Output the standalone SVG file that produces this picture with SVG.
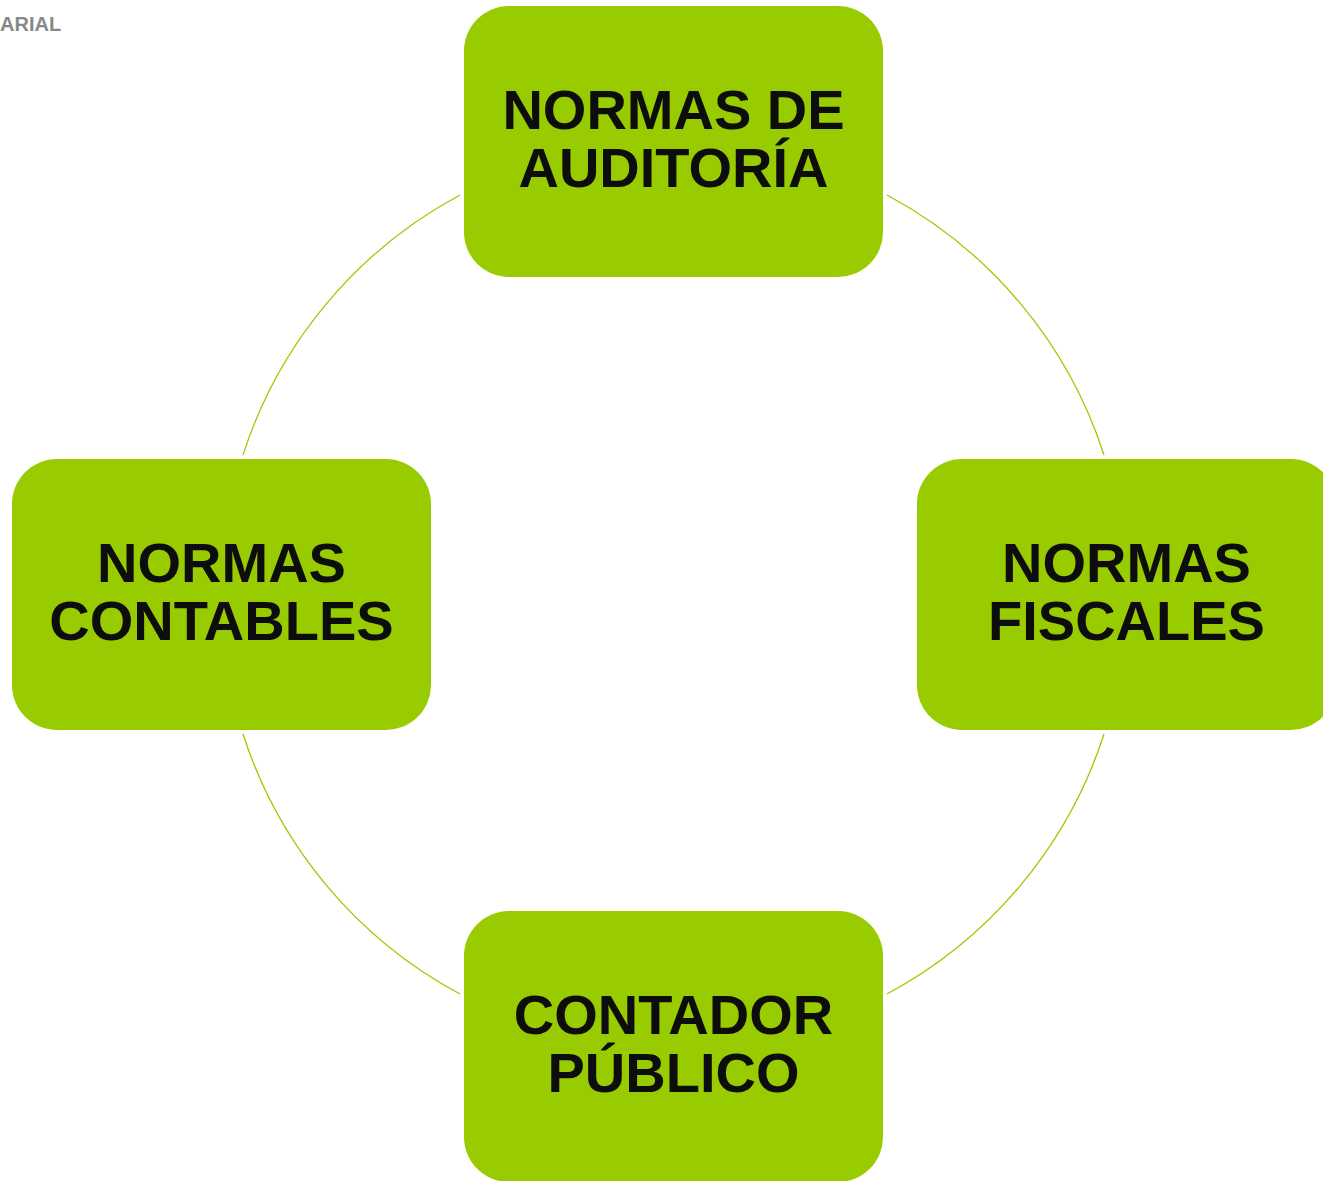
<svg xmlns="http://www.w3.org/2000/svg" width="1323" height="1181" viewBox="0 0 1323 1181">
<style>
.box{fill:#99cc00;}
.lbl{font-family:"Liberation Sans",Arial,sans-serif;font-weight:bold;font-size:56px;fill:#0d0d0d;text-anchor:middle;}
.arc{fill:none;stroke:#99cc00;stroke-width:1.3;}
</style>
<rect width="1323" height="1181" fill="#ffffff"/>
<text x="0" y="31" font-family="'Liberation Sans',Arial,sans-serif" font-weight="bold" font-size="20" fill="#888888">ARIAL</text>
<g id="connectors">
<path class="arc" d="M243,455 A452.5,452.5 0 0 1 460,195"/>
<path class="arc" d="M887,195 A452.5,452.5 0 0 1 1104,455"/>
<path class="arc" d="M1104,734 A452.5,452.5 0 0 1 887,994"/>
<path class="arc" d="M460,994 A452.5,452.5 0 0 1 243,734"/>
</g>
<g id="node-auditoria">
<rect class="box" x="464" y="6" width="419" height="271" rx="45"/>
<text class="lbl" x="673.5" y="129">NORMAS DE</text>
<text class="lbl" x="673.5" y="187">AUDITORÍA</text>
</g>
<g id="node-fiscales">
<rect class="box" x="917" y="459" width="419" height="271" rx="45"/>
<text class="lbl" x="1126.5" y="582">NORMAS</text>
<text class="lbl" x="1126.5" y="640">FISCALES</text>
</g>
<g id="node-contador">
<rect class="box" x="464" y="911" width="419" height="271" rx="45"/>
<text class="lbl" x="673.5" y="1034">CONTADOR</text>
<text class="lbl" x="673.5" y="1092">PÚBLICO</text>
</g>
<g id="node-contables">
<rect class="box" x="12" y="459" width="419" height="271" rx="45"/>
<text class="lbl" x="221.5" y="582">NORMAS</text>
<text class="lbl" x="221.5" y="640">CONTABLES</text>
</g>
</svg>
